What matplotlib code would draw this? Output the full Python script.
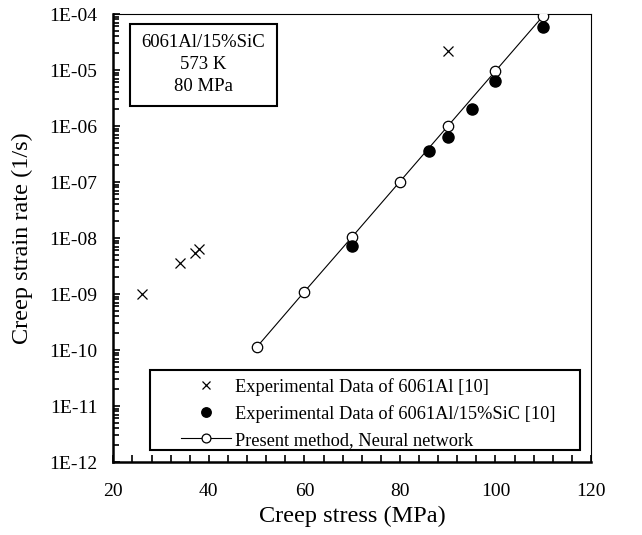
import numpy as np
import matplotlib
matplotlib.use("Agg")
import matplotlib.pyplot as plt
from matplotlib.ticker import FuncFormatter, MultipleLocator, LogLocator, NullFormatter, FixedLocator
from matplotlib.patches import Rectangle
from matplotlib.lines import Line2D

# ---- data ----
al_stress = [26, 34, 37, 38, 90]
al_rate = [1.0e-9, 3.6e-9, 5.5e-9, 6.3e-9, 2.2e-5]

comp_stress = [70, 86, 90, 95, 100, 110]
comp_rate = [7.2e-9, 3.6e-7, 6.4e-7, 2.05e-6, 6.4e-6, 5.9e-5]

nn_stress = [50, 60, 70, 80, 90, 100, 110]
nn_rate = [1.12e-10, 1.1e-9, 1.05e-8, 1.02e-7, 9.9e-7, 9.6e-6, 9.3e-5]

labels = ["Experimental Data of 6061Al [10]",
          "Experimental Data of 6061Al/15%SiC [10]",
          "Present method, Neural network"]
box_lines = ["6061Al/15%SiC", "573 K", "80 MPa"]
x_ticks = [20, 40, 60, 80, 100, 120]
y_exps = list(range(-12, -3))

plt.rcParams['font.family'] = ['Liberation Serif', 'DejaVu Serif']

fig = plt.figure(figsize=(6.42, 5.35), dpi=100)
ax = fig.add_axes([0.1765, 0.1364, 0.9206 - 0.1765, 0.9738 - 0.1364])

ax.plot(nn_stress, nn_rate, color='black', lw=0.8, marker='o', ms=7.5,
        mfc='white', mec='black', mew=0.9, zorder=3)
ax.plot(comp_stress, comp_rate, ls='none', marker='o', ms=8, mfc='black',
        mec='black', zorder=4)
ax.plot(al_stress, al_rate, ls='none', marker='x', ms=7, mec='black',
        mew=0.9, zorder=4)

ax.set_yscale('log')
ax.set_xlim(20, 120)
ax.set_ylim(1e-12, 1e-4)

ax.xaxis.set_major_locator(FixedLocator(x_ticks))
ax.xaxis.set_minor_locator(MultipleLocator(4))
ax.yaxis.set_major_locator(FixedLocator([10.0 ** e for e in y_exps]))
ax.yaxis.set_minor_locator(LogLocator(base=10, subs=np.arange(2, 10), numticks=20))
ax.yaxis.set_minor_formatter(NullFormatter())
ax.yaxis.set_major_formatter(FuncFormatter(
    lambda v, p: "1E%+03d" % int(round(np.log10(v)))))

ax.tick_params(axis='both', which='both', direction='in', top=False, right=False,
               labelsize=14, width=1.2, colors='black')
ax.tick_params(axis='both', which='major', length=5)
ax.tick_params(axis='x', which='major', pad=15)
ax.tick_params(axis='y', which='major', pad=11.5)
ax.tick_params(axis='x', which='minor', length=5)
ax.tick_params(axis='y', which='minor', length=4)

ax.spines['left'].set_linewidth(1.8)
ax.spines['bottom'].set_linewidth(1.8)
ax.spines['top'].set_linewidth(0.8)
ax.spines['right'].set_linewidth(0.8)

ax.set_xlabel("Creep stress (MPa)", fontsize=17.5)
ax.set_ylabel("Creep strain rate (1/s)", fontsize=17.5)
ax.xaxis.label.set_va('center')
ax.yaxis.label.set_va('center')
ax.xaxis.set_label_coords(0.5, (462 - 516) / 448)
ax.yaxis.set_label_coords((22 - 113) / 478, 0.5)

# info box
ax.add_patch(Rectangle((0.035, 0.7953), 0.3435 - 0.035, 0.9777 - 0.7953,
                       transform=ax.transAxes, fill=True, facecolor='white',
                       edgecolor='black', lw=1.5, zorder=5))
ax.text(0.189, 0.8866, "\n".join(box_lines), transform=ax.transAxes,
        ha='center', va='center', fontsize=13.5, linespacing=1.38, zorder=6)

# legend
ax.add_patch(Rectangle((0.0759, 0.0268), 0.9767 - 0.0759, 0.2054 - 0.0268,
                       transform=ax.transAxes, fill=True, facecolor='white',
                       edgecolor='black', lw=1.5, zorder=5))
handles = [
    Line2D([], [], ls='none', marker='x', ms=7, mec='black', mew=0.9),
    Line2D([], [], ls='none', marker='o', ms=8, mfc='black', mec='black'),
    Line2D([], [], color='black', lw=0.8, marker='o', ms=7.5, mfc='white',
           mec='black', mew=0.9),
]
leg = ax.legend(handles, labels, loc='lower left',
                bbox_to_anchor=(0.1407, 0.0295), frameon=False, fontsize=13.2,
                handlelength=2.75, handletextpad=0.2, labelspacing=0.5,
                borderpad=0.0, borderaxespad=0.0, markerscale=0.85)
leg.set_zorder(7)

fig.savefig("out.png", dpi=100)
